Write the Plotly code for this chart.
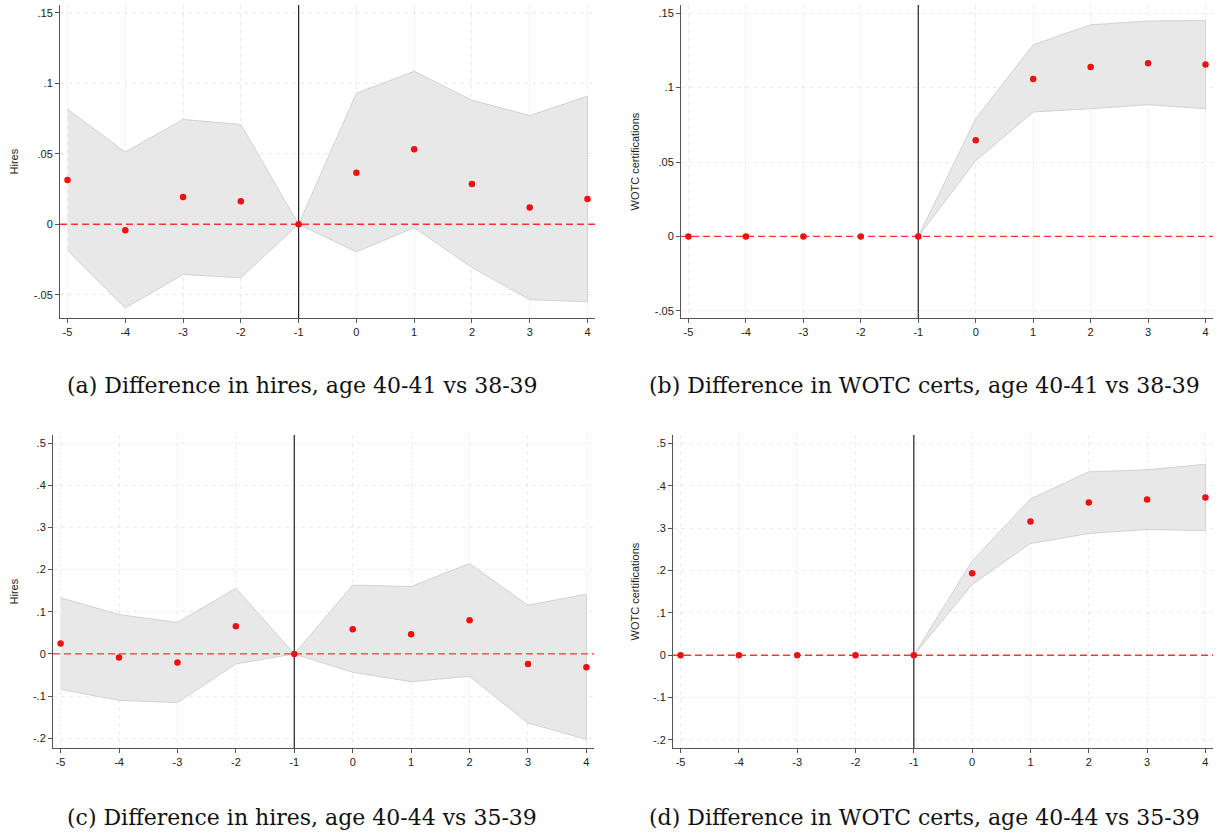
import plotly.graph_objects as go

event = [-5, -4, -3, -2, -1, 0, 1, 2, 3, 4]
xtick_labels = ["-5", "-4", "-3", "-2", "-1", "0", "1", "2", "3", "4"]

# Panel (a): hires, age 40-41 vs 38-39
a_coef = [0.0314, -0.0042, 0.0193, 0.0163, 0.0, 0.0366, 0.0531, 0.0285, 0.0118, 0.0179]
a_hi = [0.0816, 0.0512, 0.0743, 0.0708, 0.0, 0.0929, 0.1085, 0.0880, 0.0771, 0.0908]
a_lo = [-0.0184, -0.0594, -0.0356, -0.0380, 0.0, -0.0196, -0.0024, -0.0307, -0.0535, -0.0550]

# Panel (b): WOTC certs, age 40-41 vs 38-39
b_coef = [0.0, 0.0, 0.0, 0.0, 0.0, 0.0647, 0.1058, 0.1139, 0.1164, 0.1155]
b_hi = [0.0, 0.0, 0.0, 0.0, 0.0, 0.0791, 0.1288, 0.1422, 0.1447, 0.1452]
b_lo = [0.0, 0.0, 0.0, 0.0, 0.0, 0.0508, 0.0836, 0.0858, 0.0885, 0.0858]

# Panel (c): hires, age 40-44 vs 35-39
c_coef = [0.0245, -0.0087, -0.0206, 0.0657, 0.0, 0.0585, 0.0467, 0.0799, -0.0237, -0.0316]
c_hi = [0.1329, 0.0934, 0.0744, 0.1559, 0.0, 0.1630, 0.1598, 0.2144, 0.1155, 0.1416]
c_lo = [-0.0839, -0.1100, -0.1155, -0.0237, 0.0, -0.0435, -0.0657, -0.0530, -0.1638, -0.2025]

# Panel (d): WOTC certs, age 40-44 vs 35-39
d_coef = [0.0, 0.0, 0.0, 0.0, 0.0, 0.1937, 0.3157, 0.3606, 0.3677, 0.3724]
d_hi = [0.0, 0.0, 0.0, 0.0, 0.0, 0.2228, 0.3690, 0.4330, 0.4378, 0.4510]
d_lo = [0.0, 0.0, 0.0, 0.0, 0.0, 0.1670, 0.2638, 0.2874, 0.2969, 0.2945]

ytick_top = [0.15, 0.1, 0.05, 0.0, -0.05]
ytick_top_labels = [".15", ".1", ".05", "0", "-.05"]
ytick_bot = [0.5, 0.4, 0.3, 0.2, 0.1, 0.0, -0.1, -0.2]
ytick_bot_labels = [".5", ".4", ".3", ".2", ".1", "0", "-.1", "-.2"]

captions = [
    "(a) Difference in hires, age 40-41 vs 38-39",
    "(b) Difference in WOTC certs, age 40-41 vs 38-39",
    "(c) Difference in hires, age 40-44 vs 35-39",
    "(d) Difference in WOTC certs, age 40-44 vs 35-39",
]
ytitles = ["Hires", "WOTC certifications", "Hires", "WOTC certifications"]

W, H = 1222, 834
XR = [-5.13, 4.13]

panels = [
    dict(coef=a_coef, hi=a_hi, lo=a_lo, start=0, xdom=[60, 595], ydom=[5, 318],
         yr=[-0.0665, 0.1555], tv=ytick_top, tt=ytick_top_labels, cap_x=302, cap_y=385, yt_x=13),
    dict(coef=b_coef, hi=b_hi, lo=b_lo, start=4, xdom=[681, 1213], ydom=[5, 318],
         yr=[-0.0548, 0.1555], tv=ytick_top, tt=ytick_top_labels, cap_x=924, cap_y=385, yt_x=634),
    dict(coef=c_coef, hi=c_hi, lo=c_lo, start=0, xdom=[53, 594], ydom=[435, 748],
         yr=[-0.223, 0.519], tv=ytick_bot, tt=ytick_bot_labels, cap_x=302, cap_y=817, yt_x=13),
    dict(coef=d_coef, hi=d_hi, lo=d_lo, start=4, xdom=[673, 1213], ydom=[435, 748],
         yr=[-0.219, 0.52], tv=ytick_bot, tt=ytick_bot_labels, cap_x=924, cap_y=817, yt_x=634),
]

fig = go.Figure()
layout = dict(
    width=W, height=H, margin=dict(l=0, r=0, t=0, b=0),
    paper_bgcolor="white", plot_bgcolor="white", showlegend=False,
    font=dict(family="Liberation Sans, Arial", size=11, color="#222"),
)
annotations = []

for i, p in enumerate(panels):
    n = i + 1
    xa = "x" if n == 1 else f"x{n}"
    ya = "y" if n == 1 else f"y{n}"
    s = p["start"]
    ex = event[s:]
    hi = p["hi"][s:]
    lo = p["lo"][s:]
    # CI band
    fig.add_trace(go.Scatter(
        x=ex + ex[::-1], y=hi + lo[::-1], fill="toself", mode="lines",
        fillcolor="#e8e8e8", line=dict(color="#d2d2d2", width=1),
        xaxis=xa, yaxis=ya, hoverinfo="skip"))
    # zero reference line
    fig.add_trace(go.Scatter(
        x=XR, y=[0, 0], mode="lines",
        line=dict(color="#ff3333", width=1.3, dash="7px,4px"),
        xaxis=xa, yaxis=ya, hoverinfo="skip"))
    # event line at -1
    fig.add_trace(go.Scatter(
        x=[-1, -1], y=p["yr"], mode="lines",
        line=dict(color="#222222", width=1.2),
        xaxis=xa, yaxis=ya, hoverinfo="skip"))
    # point estimates
    fig.add_trace(go.Scatter(
        x=event, y=p["coef"], mode="markers",
        marker=dict(color="#ee1111", size=6.5),
        xaxis=xa, yaxis=ya))

    xd = [p["xdom"][0] / W, p["xdom"][1] / W]
    yd = [1 - p["ydom"][1] / H, 1 - p["ydom"][0] / H]
    xkey = "xaxis" if n == 1 else f"xaxis{n}"
    ykey = "yaxis" if n == 1 else f"yaxis{n}"
    layout[xkey] = dict(
        domain=xd, anchor=ya, range=XR, tickvals=event, ticktext=xtick_labels,
        showgrid=True, gridcolor="#eaeaea", griddash="4px,4px", gridwidth=1,
        showline=True, linecolor="#555", linewidth=1,
        ticks="outside", ticklen=4, tickcolor="#555", zeroline=False,
        tickfont=dict(size=11, color="#222"),
    )
    layout[ykey] = dict(
        domain=yd, anchor=xa, range=p["yr"], tickvals=p["tv"], ticktext=p["tt"],
        showgrid=True, gridcolor="#eaeaea", griddash="4px,4px", gridwidth=1,
        showline=True, linecolor="#555", linewidth=1,
        ticks="outside", ticklen=4, tickcolor="#555", zeroline=False,
        tickfont=dict(size=11, color="#222"),
    )
    annotations.append(dict(
        text=captions[i], x=p["cap_x"] / W, y=1 - p["cap_y"] / H,
        xref="paper", yref="paper", showarrow=False, xanchor="center", yanchor="middle",
        font=dict(family="DejaVu Serif, Liberation Serif, serif", size=22, color="#111")))
    annotations.append(dict(
        text=ytitles[i], x=p["yt_x"] / W, y=1 - (p["ydom"][0] + p["ydom"][1]) / 2 / H,
        xref="paper", yref="paper", showarrow=False, textangle=-90,
        xanchor="center", yanchor="middle",
        font=dict(family="Liberation Sans, Arial", size=11, color="#222")))

layout["annotations"] = annotations
fig.update_layout(**layout)
fig.write_html("out.html")
